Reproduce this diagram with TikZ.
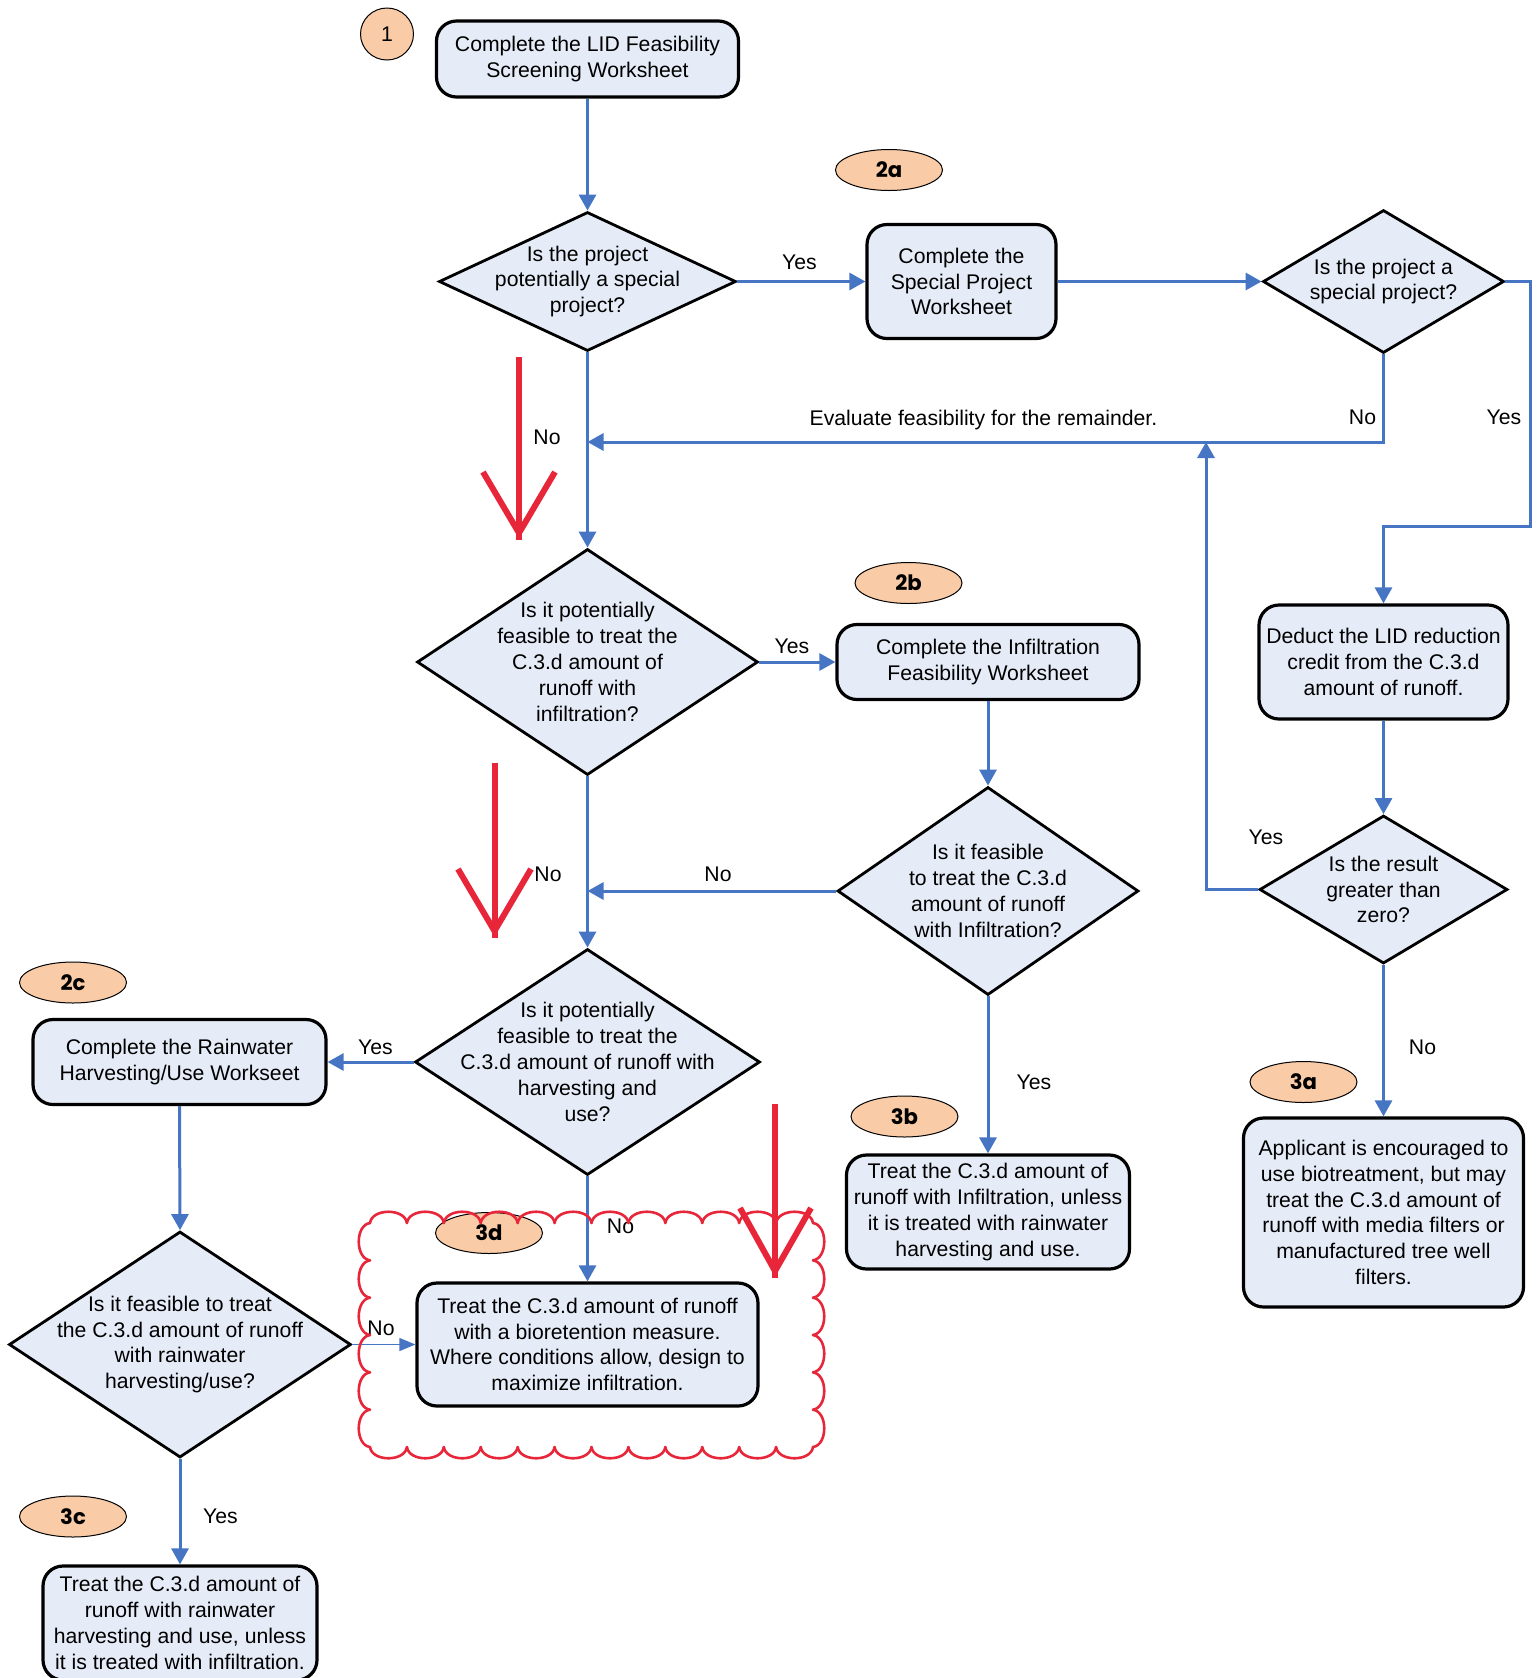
\documentclass[tikz,border=0pt]{standalone}
\usepackage{fontspec}
\setmainfont{Liberation Sans}
\newfontfamily\badgefont{Poppins}
\usetikzlibrary{arrows.meta,shapes.geometric}
\definecolor{lineblue}{RGB}{70,117,196}
\definecolor{boxfill}{RGB}{230,236,247}
\definecolor{peach}{RGB}{249,203,166}
\definecolor{annred}{RGB}{232,38,58}
\begin{document}
\begin{tikzpicture}[x=0.5pt,y=-0.5pt,
  every node/.style={font=\fontsize{10.6}{12.9}\selectfont},
  box/.style={draw=black, line width=1.6pt, fill=boxfill, rounded corners=10pt, align=center, inner sep=0pt},
  dshape/.style={diamond, draw=black, line width=1.4pt, fill=boxfill, inner sep=0pt},
  dtext/.style={align=center, inner sep=0pt},
  badge/.style={ellipse, draw=black, line width=0.5pt, fill=peach, inner sep=0pt, font=\fontsize{10.6}{12.9}\selectfont\badgefont\bfseries, minimum width=53.5pt, minimum height=20.5pt},
  conn/.style={draw=lineblue, line width=1.5pt, -{Triangle[length=8pt,width=8.5pt]}},
  thinconn/.style={draw=lineblue, line width=0.6pt, -{Triangle[length=8pt,width=6.5pt]}},
  lbl/.style={inner sep=0pt},
  redarrow/.style={draw=annred, line width=3pt},
  cloudline/.style={draw=annred, line width=1.3pt, line cap=round},
]
\useasboundingbox (0,0) rectangle (1538,1678);

% ---- boxes ----
\node[box, minimum width=151pt, minimum height=38pt] (box1) at (587.5,59) {Complete the LID Feasibility\\Screening Worksheet};
\node[box, minimum width=94.5pt, minimum height=57pt] (box2a) at (961.5,281.5) {Complete the\\Special Project\\Worksheet};
\node[box, minimum width=151pt, minimum height=37.5pt] (box2b) at (988,662) {Complete the Infiltration\\Feasibility Worksheet};
\node[box, minimum width=146.5pt, minimum height=42.5pt] (box2c) at (179.5,1062) {Complete the Rainwater\\Harvesting/Use Workseet};
\node[box, minimum width=141.5pt, minimum height=57pt] (box3b) at (988,1212) {Treat the C.3.d amount of\\runoff with Infiltration, unless\\it is treated with rainwater\\harvesting and use.};
\node[box, minimum width=137pt, minimum height=57pt] (box3c) at (180,1623) {Treat the C.3.d amount of\\runoff with rainwater\\harvesting and use, unless\\it is treated with infiltration.};
\node[box, minimum width=170.5pt, minimum height=61.5pt] (box3d) at (587.5,1344.5) {Treat the C.3.d amount of runoff\\with a bioretention measure.\\Where conditions allow, design to\\maximize infiltration.};
\node[box, minimum width=124.5pt, minimum height=57pt] (deduct) at (1383.5,662) {Deduct the LID reduction\\credit from the C.3.d\\amount of runoff.};
\node[box, minimum width=140pt, minimum height=94.5pt] (final) at (1383.5,1212.5) {Applicant is encouraged to\\use biotreatment, but may\\treat the C.3.d amount of\\runoff with media filters or\\manufactured tree well\\filters.};

% ---- diamonds ----
\node[dshape, minimum width=148.5pt, minimum height=69.5pt] (d1) at (587.5,281.5) {};
\node[dtext] (d1t) at (d1.center) {Is the project\\potentially a special\\project?};
\node[dshape, minimum width=120.5pt, minimum height=71.5pt] (d2) at (1383.5,281.5) {};
\node[dtext] (d2t) at (d2.center) {Is the project a\\special project?};
\node[dshape, minimum width=170.5pt, minimum height=113pt] (d3) at (587.5,662) {};
\node[dtext] (d3t) at (d3.center) {Is it potentially\\feasible to treat the\\C.3.d amount of\\runoff with\\infiltration?};
\node[dshape, minimum width=150.5pt, minimum height=104pt] (d4) at (988,891) {};
\node[dtext] (d4t) at (d4.center) {Is it feasible\\to treat the C.3.d\\amount of runoff\\with Infiltration?};
\node[dshape, minimum width=172.5pt, minimum height=113pt] (d5) at (587.5,1062) {};
\node[dtext] (d5t) at (d5.center) {Is it potentially\\feasible to treat the\\C.3.d amount of runoff with\\harvesting and\\use?};
\node[dshape, minimum width=171pt, minimum height=113pt] (d6) at (180,1344.5) {};
\node[dtext] (d6t) at (d6.center) {Is it feasible to treat\\the C.3.d amount of runoff\\with rainwater\\harvesting/use?};
\node[dshape, minimum width=124pt, minimum height=74pt] (d7) at (1383.5,889.5) {};
\node[dtext] (d7t) at (d7.center) {Is the result\\greater than\\zero?};

% ---- badges ----
\node[badge, font=\fontsize{10.6}{12.9}\selectfont, minimum width=26.5pt, minimum height=26pt] (b1) at (387,34) {1};
\node[badge] (b2a) at (889,170) {2a};
\node[badge] (b2b) at (908.5,583) {2b};
\node[badge] (b2c) at (73,982.5) {2c};
\node[badge] (b3a) at (1303.5,1082) {3a};
\node[badge] (b3b) at (904.5,1116.5) {3b};
\node[badge] (b3c) at (73,1516.5) {3c};
\node[badge] (b3d) at (489,1233) {3d};

% ---- connectors ----
\coordinate (c1) at (1530.5,526.5);
\coordinate (m1) at (587.5,442);
\coordinate (m2) at (1206,442);
\coordinate (m3) at (587.5,891);
\draw[conn] (box1.south) -- (d1.north);
\draw[conn] (d1.east) -- (box2a.west);
\draw[conn] (box2a.east) -- (d2.west);
\draw[conn] (d2.east) -| (c1) -| (deduct.north);
\draw[conn] (d2.south) |- (m1);
\draw[conn] (d1.south) -- (d3.north);
\draw[conn] (d7.west) -| (m2);
\draw[conn] (deduct.south) -- (d7.north);
\draw[conn] (d7.south) -- (final.north);
\draw[conn] (d3.east) -- (box2b.west);
\draw[conn] (box2b.south) -- (d4.north);
\draw[conn] (d4.west) -- (m3);
\draw[conn] (d3.south) -- (d5.north);
\draw[conn] (d4.south) -- (box3b.north);
\draw[conn] (d5.west) -- (box2c.east);
\draw[conn] (box2c.south) -- (d6.north);
\draw[conn] (d6.south) -- (box3c.north);
\draw[thinconn] (d6.east) -- (box3d.west);
\draw[conn] (d5.south) -- (box3d.north);

% ---- labels ----
\node[lbl] (l1) at (799.5,262) {Yes};
\node[lbl] (l2) at (1504,417) {Yes};
\node[lbl] (l3) at (1362.5,417) {No};
\node[lbl] (l4) at (983.5,420.5) {Evaluate feasibility for the remainder.};
\node[lbl] (l5) at (547,437) {No};
\node[lbl] (l6) at (792,646.5) {Yes};
\node[lbl] (l7) at (718,874.5) {No};
\node[lbl] (l8) at (548,874.5) {No};
\node[lbl] (l9) at (1266,837) {Yes};
\node[lbl] (l10) at (1034,1082) {Yes};
\node[lbl] (l11) at (1422.5,1047) {No};
\node[lbl] (l12) at (375.5,1047) {Yes};
\node[lbl] (l13) at (620.5,1226.5) {No};
\node[lbl] (l14) at (381,1328) {No};
\node[lbl] (l15) at (220.5,1516.5) {Yes};

% ---- red cloud (scalloped outline) ----
\foreach \i in {0,...,11} {
  \pgfmathsetmacro\xa{370+\i*36.917}
  \pgfmathsetmacro\xb{\xa+36.917}
  \draw[cloudline] (\xa,1223) .. controls (\xa+2,1208) and (\xb-2,1208) .. (\xb,1223);
  \draw[cloudline] (\xa,1447) .. controls (\xa+2,1462) and (\xb-2,1462) .. (\xb,1447);
}
\foreach \i in {0,...,5} {
  \pgfmathsetmacro\ya{1223+\i*37.333}
  \pgfmathsetmacro\yb{\ya+37.333}
  \draw[cloudline] (370,\ya) .. controls (355,\ya+2) and (355,\yb-2) .. (370,\yb);
  \draw[cloudline] (813,\ya) .. controls (828,\ya+2) and (828,\yb-2) .. (813,\yb);
}

% ---- red arrows ----
\coordinate (ra1) at (519,357); \coordinate (ra2) at (519,540);
\draw[redarrow] (ra1) -- (ra2);
\draw[redarrow] (483,472) -- (519,533) -- (555,472);
\coordinate (rb1) at (494.5,763); \coordinate (rb2) at (494.5,938);
\draw[redarrow] (rb1) -- (rb2);
\draw[redarrow] (458,869) -- (494.5,931) -- (531,869);
\coordinate (rc1) at (775,1104); \coordinate (rc2) at (775,1278);
\draw[redarrow] (rc1) -- (rc2);
\draw[redarrow] (740,1208) -- (775,1271) -- (811,1208);
\end{tikzpicture}
\end{document}
